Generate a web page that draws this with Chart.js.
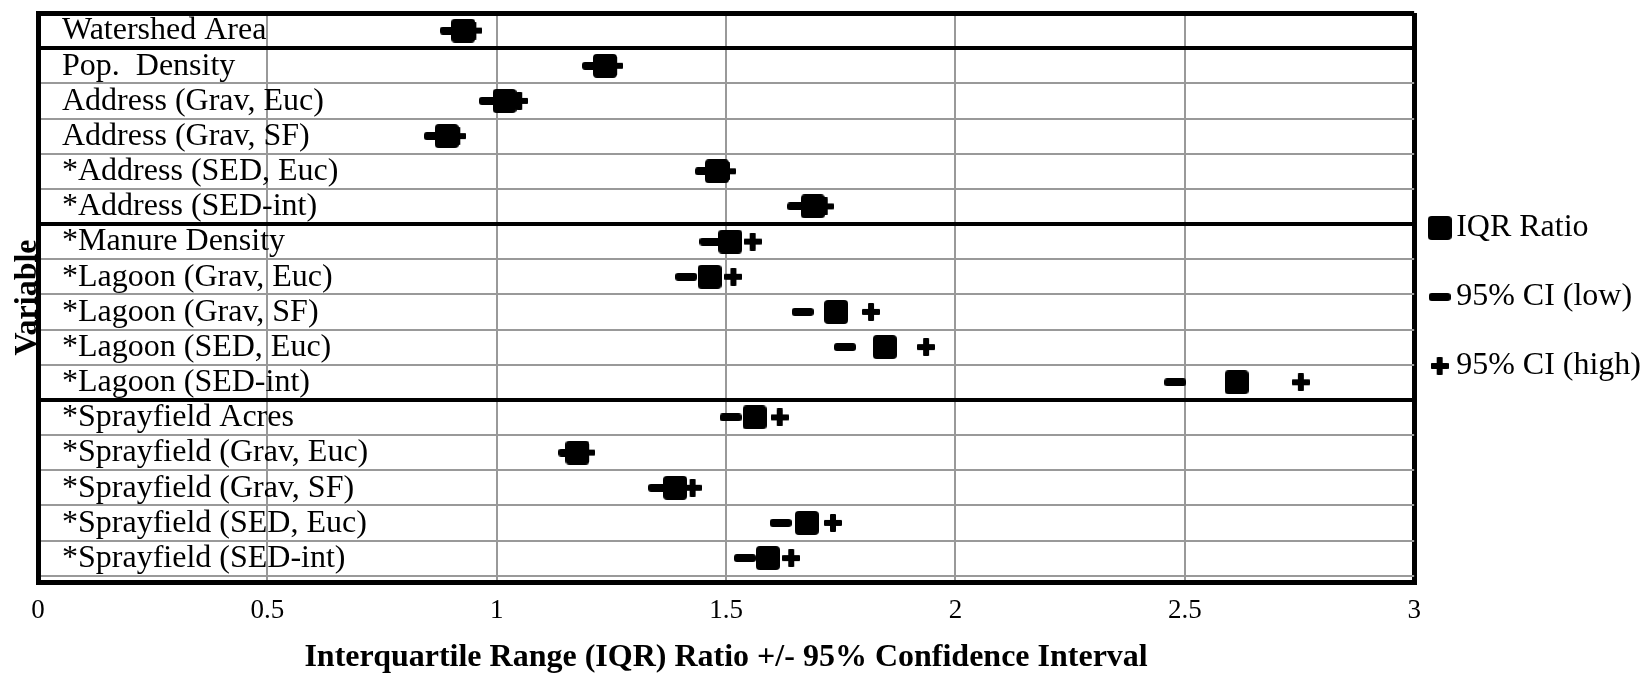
<!DOCTYPE html>
<html>
<head>
<meta charset="utf-8">
<title>IQR Ratio +/- 95% CI by Variable</title>
<script src="https://cdn.jsdelivr.net/npm/chart.js@4.4.1/dist/chart.umd.min.js"></script>
<style>
  html, body { margin: 0; padding: 0; background: #fff; }
</style>
</head>
<body>
<canvas id="iqrChart" width="1648" height="673"></canvas>
<script>
// Rows, top to bottom
const variables = [
    'Watershed Area',
    'Pop.  Density',
    'Address (Grav, Euc)',
    'Address (Grav, SF)',
    '*Address (SED, Euc)',
    '*Address (SED-int)',
    '*Manure Density',
    '*Lagoon (Grav, Euc)',
    '*Lagoon (Grav, SF)',
    '*Lagoon (SED, Euc)',
    '*Lagoon (SED-int)',
    '*Sprayfield Acres',
    '*Sprayfield (Grav, Euc)',
    '*Sprayfield (Grav, SF)',
    '*Sprayfield (SED, Euc)',
    '*Sprayfield (SED-int)'
];

const iqrRatio = [0.927, 1.236, 1.017, 0.891, 1.480, 1.689, 1.509, 1.464, 1.740, 1.846, 2.613, 1.562, 1.176, 1.389, 1.676, 1.591];
const ciLow    = [0.900, 1.210, 0.985, 0.865, 1.456, 1.657, 1.466, 1.413, 1.667, 1.759, 2.479, 1.510, 1.158, 1.354, 1.619, 1.541];
const ciHigh   = [0.949, 1.256, 1.049, 0.914, 1.502, 1.715, 1.558, 1.516, 1.816, 1.936, 2.753, 1.617, 1.195, 1.427, 1.733, 1.642];

const xTickLabels = ['0', '0.5', '1', '1.5', '2', '2.5', '3'];
const groupBreaks = [1, 6, 11];     // heavy lines above these rows

const serif = "'Liberation Serif', 'Times New Roman', Times, serif";

// small canvases used as point styles
function markerCanvas(w, h, paint) {
    const c = document.createElement('canvas');
    c.width = w;
    c.height = h;
    const g = c.getContext('2d');
    g.fillStyle = '#000';
    paint(g);
    return c;
}
function roundedRect(g, x, y, w, h, r) {
    g.beginPath();
    g.moveTo(x + r, y);
    g.arcTo(x + w, y, x + w, y + h, r);
    g.arcTo(x + w, y + h, x, y + h, r);
    g.arcTo(x, y + h, x, y, r);
    g.arcTo(x, y, x + w, y, r);
    g.closePath();
    g.fill();
}
const squareMark = markerCanvas(24, 24, g => roundedRect(g, 0, 0, 24, 24, 4));
const dashMark   = markerCanvas(22, 8, g => roundedRect(g, 0, 0, 22, 8, 3));
const plusMark   = markerCanvas(18, 18, g => {
    roundedRect(g, 0, 6, 18, 6, 1);
    roundedRect(g, 6, 0, 6, 18, 1);
});

function rowPoints(values) {
    return values.map((v, i) => ({ x: v, y: i + 0.5 }));   // centre of row i
}

Chart.defaults.font.family = serif;
Chart.defaults.color = '#000';

new Chart(document.getElementById('iqrChart'), {
    type: 'scatter',
    data: {
        datasets: [
            { label: 'IQR Ratio',     data: rowPoints(iqrRatio), pointStyle: squareMark, pointRadius: 12 },
            { label: '95% CI (low)',  data: rowPoints(ciLow),    pointStyle: dashMark,   pointRadius: 11 },
            { label: '95% CI (high)', data: rowPoints(ciHigh),   pointStyle: plusMark,   pointRadius: 9 }
        ]
    },
    options: {
        responsive: false,
        animation: false,
        events: [],
        layout: { padding: { top: 7, right: -3, bottom: 0, left: 0 } },
        scales: {
            x: {
                type: 'linear',
                min: 0,
                max: 3,
                afterFit: scale => { scale.height = 91; },
                ticks: {
                    stepSize: 0.5,
                    maxRotation: 0,
                    padding: 13,
                    color: '#000',
                    font: { size: 27 },
                    callback: (value, index) => xTickLabels[index]
                },
                grid: {
                    drawTicks: false,
                    color: ctx => (ctx.tick.value === 0 || ctx.tick.value === 3) ? '#000' : '#999',
                    lineWidth: ctx => (ctx.tick.value === 0 || ctx.tick.value === 3) ? 5 : 2
                },
                border: { display: true, color: '#000', width: 5 },
                title: {
                    display: true,
                    text: 'Interquartile Range (IQR) Ratio +/- 95% Confidence Interval',
                    color: '#000',
                    font: { size: 32, weight: 'bold', lineHeight: 1 },
                    padding: { top: 0, bottom: -1 }
                }
            },
            y: {
                type: 'linear',
                reverse: true,
                min: 0,
                max: 16.18,
                afterFit: scale => {
                    scale.width = 38;
                    scale.paddingTop = 0;       // labels sit inside the plot, no overhang
                    scale.paddingBottom = 0;
                },
                ticks: {
                    stepSize: 1,
                    includeBounds: false,
                    autoSkip: false,
                    mirror: true,
                    padding: 24,
                    labelOffset: 18,
                    color: '#000',
                    font: { size: 32 },
                    callback: value => variables[value] ?? ''
                },
                grid: {
                    drawTicks: false,
                    color: ctx => (ctx.tick.value === 0 || groupBreaks.includes(ctx.tick.value)) ? '#000' : '#999',
                    lineWidth: ctx => ctx.tick.value === 0 ? 5 : (groupBreaks.includes(ctx.tick.value) ? 4 : 2)
                },
                border: { display: true, color: '#000', width: 5 },
                title: {
                    display: true,
                    text: 'Variable',
                    color: '#000',
                    font: { size: 32, weight: 'bold', lineHeight: 1.75 },
                    padding: 0
                }
            }
        },
        plugins: {
            tooltip: { enabled: false },
            legend: {
                position: 'right',
                fullSize: false,
                title: { display: true, text: ' ', font: { size: 1, lineHeight: 1 }, padding: 5 },
                labels: {
                    usePointStyle: true,
                    boxWidth: 1,
                    padding: 25,
                    color: '#000',
                    font: { size: 32, lineHeight: 1.375 },
                    // array text makes each row as tall as the font line height
                    generateLabels: chart => Chart.defaults.plugins.legend.labels.generateLabels(chart)
                        .map(item => Object.assign(item, { text: [item.text] }))
                }
            }
        }
    }
});
</script>
</body>
</html>
